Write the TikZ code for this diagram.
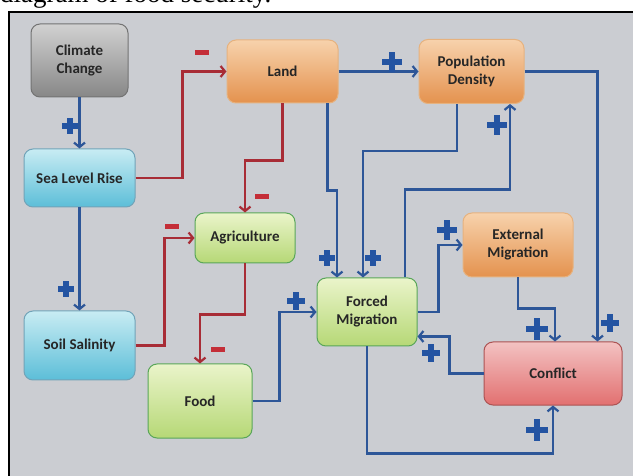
\documentclass[tikz,border=0pt]{standalone}
\usepackage{fontspec}
\setmainfont{Carlito}
\newfontfamily\capfont{Liberation Serif}
\usetikzlibrary{arrows.meta}

\definecolor{linkblue}{RGB}{45,86,152}
\definecolor{linkred}{RGB}{168,44,54}
\definecolor{signblue}{RGB}{36,84,162}
\definecolor{signred}{RGB}{196,46,56}
\definecolor{bggray}{RGB}{203,205,210}

\tikzstyle{boxnode} = [draw, rounded corners=9pt, line width=1pt, inner sep=0pt, align=center, text=black!85, font=\bfseries\fontsize{15}{18}\selectfont]
\tikzstyle{greybox} = [boxnode, draw=black!55, top color=black!18, bottom color=black!47]
\tikzstyle{orangebox} = [boxnode, draw=orange!35!brown!60, top color={rgb,255:red,247;green,210;blue,172}, bottom color={rgb,255:red,228;green,146;blue,78}]
\tikzstyle{bluebox} = [boxnode, draw=cyan!40!gray, top color={rgb,255:red,200;green,236;blue,243}, bottom color={rgb,255:red,92;green,190;blue,216}]
\tikzstyle{greenbox} = [boxnode, draw=green!30!gray, top color={rgb,255:red,234;green,244;blue,202}, bottom color={rgb,255:red,182;green,216;blue,118}]
\tikzstyle{pinkbox} = [boxnode, draw=red!35!gray, top color={rgb,255:red,243;green,194;blue,194}, bottom color={rgb,255:red,226;green,112;blue,112}]
\tikzstyle{poslink} = [draw=linkblue, line width=2.2pt, ->]
\tikzstyle{neglink} = [draw=linkred, line width=2.2pt, ->]
\tikzstyle{minus} = [fill=signred, minimum width=14pt, minimum height=5pt, inner sep=0pt]
\tikzset{plus/.style={minimum size=#1, inner sep=0pt, path picture={
  \fill[signblue] ([xshift=-2.7pt]path picture bounding box.north) rectangle ([xshift=2.7pt]path picture bounding box.south);
  \fill[signblue] ([yshift=-2.7pt]path picture bounding box.west) rectangle ([yshift=2.7pt]path picture bounding box.east);}},
  plus/.default=16pt}

\begin{document}
\begin{tikzpicture}[x=1pt, y=-1pt, >={Straight Barb[length=4.5pt,width=11pt]}]
  \useasboundingbox (0,0) rectangle (633,476);
  \clip (0,0) rectangle (633,476);
  \node[anchor=base west, inner sep=0pt, font=\capfont\fontsize{27}{30}\selectfont] (caption) at (0,3) {diagram of food security.};
  \fill[bggray] (9,12) rectangle (640,480);
  \draw[line width=1.2pt] (9,480) -- (9,12) -- (640,12);

  \node[greybox, minimum width=97pt, minimum height=73pt] (climate) at (79.5,60.5) {Climate\\Change};
  \node[orangebox, minimum width=111pt, minimum height=63pt] (land) at (282.5,71.5) {Land};
  \node[orangebox, minimum width=105pt, minimum height=64pt] (popdens) at (471.5,71.5) {Population\\Density};
  \node[bluebox, minimum width=111pt, minimum height=58pt] (sealevel) at (79.5,178) {Sea Level Rise};
  \node[greenbox, minimum width=100pt, minimum height=50pt] (agri) at (245,238) {Agriculture};
  \node[orangebox, minimum width=110pt, minimum height=64pt] (extmig) at (518,245) {External\\Migration};
  \node[greenbox, minimum width=100pt, minimum height=68pt] (forced) at (367,312) {Forced\\Migration};
  \node[pinkbox, minimum width=138pt, minimum height=63pt] (conflict) at (553,373.5) {Conflict};
  \node[bluebox, minimum width=111pt, minimum height=69pt] (soil) at (79.5,345.5) {Soil Salinity};
  \node[greenbox, minimum width=104pt, minimum height=74pt] (food) at (200,401) {Food};

  \draw[poslink] (climate.south) -- (sealevel.north);
  \draw[neglink] (sealevel.east) -- ++(47,0) |- (land.west);
  \draw[neglink] (land.south) -- ++(0,57) -| (agri.north);
  \draw[poslink] (sealevel.south) -- (soil.north);
  \draw[neglink] (soil.east) -- ++(29,0) |- (agri.west);
  \draw[neglink] (agri.south) -- ++(0,51) -| (food.north);
  \draw[poslink] (food.east) -- ++(27,0) |- (forced.west);
  \draw[poslink] (land.east) -- (popdens.west);
  \draw[poslink] (popdens.east) -| ([xshift=-25pt]conflict.north east);
  \draw[poslink] ([xshift=-11pt]land.south east) -- ++(0,87) -| ([xshift=-30pt]forced.north);
  \draw[poslink] ([xshift=-14.5pt]popdens.south) -- ++(0,47) -| ([xshift=-4pt]forced.north);
  \draw[poslink] ([xshift=38pt]forced.north) -- ++(0,-88) -| ([xshift=38.5pt]popdens.south);
  \draw[poslink] (forced.east) -- ++(21,0) |- (extmig.west);
  \draw[poslink] (extmig.south) -- ++(0,31) -| ([xshift=2pt]conflict.north);
  \draw[poslink] (conflict.west) -- ++(-34,0) |- ([yshift=10pt]forced.south east);
  \draw[poslink] (forced.south) -- ++(0,107) -| (conflict.south);

  % signs
  \node[minus] (m1) at (202,53) {};
  \node[minus] (m2) at (262,197) {};
  \node[minus] (m3) at (172,227) {};
  \node[minus] (m4) at (218,350) {};
  \node[plus] (p1) at (70,126) {};
  \node[plus] (p2) at (66,289) {};
  \node[plus=18pt] (p3) at (296,301) {};
  \node[plus=20pt] (p4) at (392,62) {};
  \node[plus=20pt] (p5) at (497,125) {};
  \node[plus] (p6) at (327,258) {};
  \node[plus] (p7) at (373,258) {};
  \node[plus=20pt] (p8) at (447,230) {};
  \node[plus=22pt] (p9) at (537,329) {};
  \node[plus=18pt] (p10) at (610,323) {};
  \node[plus=18pt] (p11) at (431,353) {};
  \node[plus=22pt] (p12) at (537,430) {};
\end{tikzpicture}
\end{document}
